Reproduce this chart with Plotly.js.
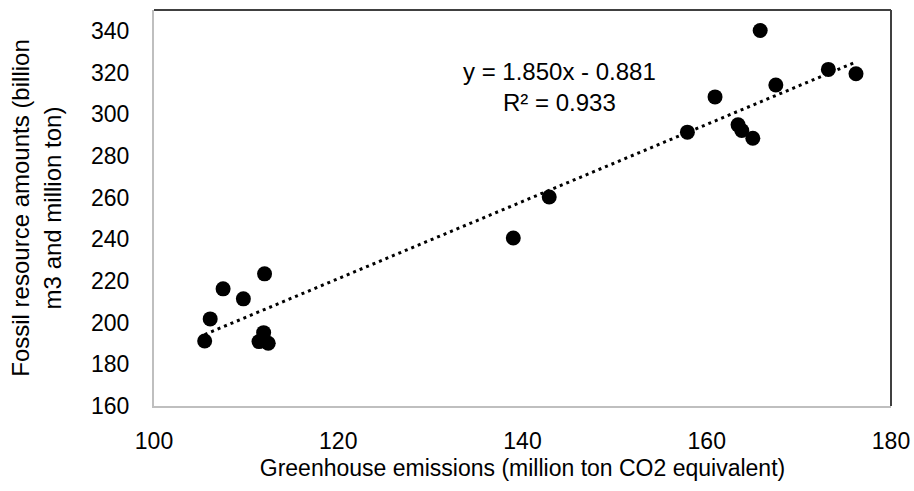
<!DOCTYPE html>
<html>
<head>
<meta charset="utf-8">
<script src="https://cdn.plot.ly/plotly-3.0.1.min.js"></script>
<style>html,body{margin:0;padding:0;background:#fff;}#chart{width:914px;height:491px;}</style>
</head>
<body>
<div id="chart"></div>
<script>
// Data
var emissions = [105.5, 106.1, 107.5, 109.7, 112.0, 111.9, 111.4, 112.4, 139.0, 142.9,
                 157.9, 160.9, 165.8, 163.4, 163.8, 165.0, 167.5, 173.2, 176.2];
var fossil    = [191.2, 201.8, 216.2, 211.4, 223.4, 195.2, 190.9, 190.1, 240.6, 260.3,
                 291.4, 308.3, 340.2, 294.9, 292.2, 288.5, 314.0, 321.5, 319.4];
var trendSlope = 1.850;
var trendIntercept = -0.881;
var rSquared = 0.933;
var yTickVals = [160, 180, 200, 220, 240, 260, 280, 300, 320, 340];
var xTickVals = [100, 120, 140, 160, 180];

var xMin = Math.min.apply(null, emissions);
var xMax = Math.max.apply(null, emissions);
var trendX = [xMin, xMax];
var trendY = trendX.map(function (x) { return trendSlope * x + trendIntercept; });

var family = 'Arial, "Liberation Sans", sans-serif';
var font = {family: family, size: 23, color: '#000'};
var bigFont = {family: family, size: 24, color: '#000'};

var traces = [
  {x: trendX, y: trendY, type: 'scatter', mode: 'lines',
   line: {color: '#000', width: 3, dash: '3px,4px'}, hoverinfo: 'skip', showlegend: false},
  {x: emissions, y: fossil, type: 'scatter', mode: 'markers',
   marker: {color: '#000', size: 15}, showlegend: false}
];

var layout = {
  width: 914, height: 491,
  margin: {l: 154, r: 23, t: 10, b: 85},
  paper_bgcolor: '#fff', plot_bgcolor: '#fff',
  font: font,
  showlegend: false,
  xaxis: {
    range: [100, 180], tickvals: xTickVals, ticktext: xTickVals.map(String),
    showgrid: false, zeroline: false, showline: true, linecolor: '#bfbfbf', linewidth: 2,
    ticks: '', ticklen: 0, tickfont: font, automargin: false, ticklabelstandoff: 13,
    title: {text: 'Greenhouse emissions (million ton CO2 equivalent)', font: font, standoff: 7}
  },
  yaxis: {
    range: [160, 350], tickvals: yTickVals, ticktext: yTickVals.map(String),
    showgrid: false, zeroline: false, showline: true, linecolor: '#bfbfbf', linewidth: 2,
    ticks: '', ticklen: 0, tickfont: font, automargin: false, ticklabelstandoff: 18,
    title: {text: 'Fossil resource amounts (billion<br>m3 and million ton)', font: bigFont, standoff: 23}
  },
  shapes: [
    {type: 'line', xref: 'paper', yref: 'paper', x0: 0, x1: 1, y0: 1, y1: 1,
     line: {color: '#404040', width: 2}},
    {type: 'line', xref: 'paper', yref: 'paper', x0: 1, x1: 1, y0: 0, y1: 1,
     line: {color: '#404040', width: 2}}
  ],
  annotations: [
    {x: 144, y: 313, xref: 'x', yref: 'y', showarrow: false, align: 'center',
     text: 'y = ' + trendSlope.toFixed(3) + 'x - ' + Math.abs(trendIntercept).toFixed(3) + '<br>R² = ' + rSquared.toFixed(3),
     font: bigFont}
  ]
};

Plotly.newPlot('chart', traces, layout, {displayModeBar: false, staticPlot: true});
</script>
</body>
</html>
